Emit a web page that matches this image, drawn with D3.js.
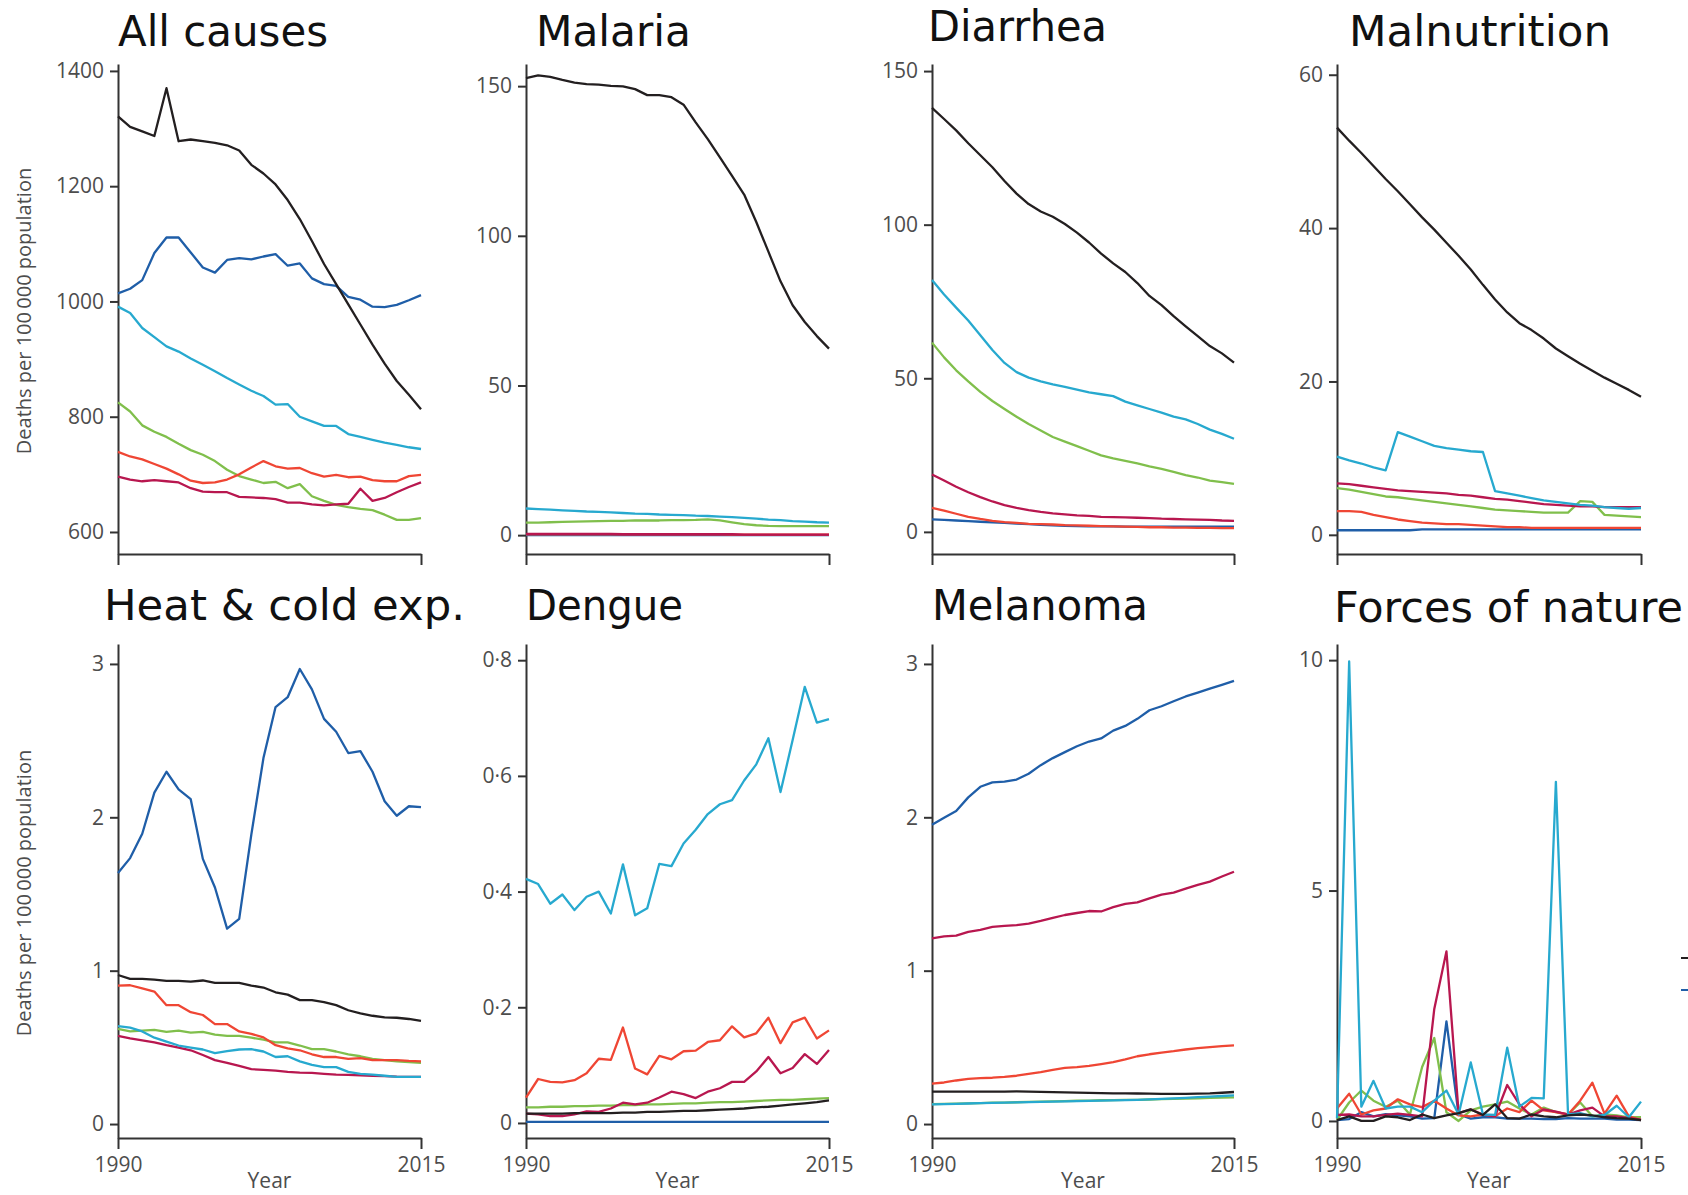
<!DOCTYPE html>
<html>
<head>
<meta charset="utf-8">
<script src="https://cdn.jsdelivr.net/npm/d3@7"></script>
<style>
  body { margin: 0; background: #ffffff; }
  svg { display: block; }
</style>
</head>
<body>
<svg id="chart" width="1688" height="1195"></svg>
<script>
// Years on the x axis
const years = [1990,1991,1992,1993,1994,1995,1996,1997,1998,1999,2000,2001,2002,2003,2004,2005,2006,2007,2008,2009,2010,2011,2012,2013,2014,2015];

// Series order inside every panel: black, dark blue, light blue, green, red, crimson
const seriesColors = ["#231f20", "#1f5ea8", "#27a9cf", "#80bf4c", "#ef4634", "#b8174f"];

// Deaths per 100 000 population, one row per series
const allCauses = [
  [1321,1303,1295,1287,1370,1278,1281,1278,1275,1271,1262,1237,1222,1203,1176,1143,1105,1065,1030,995,960,925,892,862,838,813],
  [1014,1022,1037,1084,1111,1111,1085,1059,1050,1072,1075,1073,1078,1082,1062,1066,1040,1030,1027,1008,1003,991,990,994,1002,1011],
  [991,980,954,938,922,913,901,890,879,867,856,845,836,821,822,800,792,784,784,770,765,760,755,751,747,744],
  [825,809,785,774,765,753,742,734,723,708,697,691,685,687,676,683,662,654,647,643,640,638,630,621,621,624],
  [739,731,726,718,710,700,689,685,686,691,700,712,723,714,710,711,702,696,699,695,696,690,688,688,697,699],
  [696,691,688,690,688,686,676,670,669,669,661,660,659,657,651,651,648,646,648,649,675,654,659,669,678,686]
];
const malaria = [
  [152.7,153.6,153.1,152.1,151.2,150.7,150.5,150.1,149.9,149.0,147.0,147.0,146.3,143.8,137.9,132.3,126.2,120.0,113.8,104.6,94.7,84.8,76.8,71.2,66.5,62.3],
  [0.0,0.0,0.0,0.0,0.0,0.0,0.0,0.0,0.0,0.0,0.0,0.0,0.0,0.0,0.0,0.0,0.0,0.0,0.0,0.0,0.0,0.0,0.0,0.0,0.0,0.0],
  [8.9,8.7,8.5,8.3,8.1,7.9,7.8,7.6,7.4,7.2,7.1,6.9,6.8,6.7,6.5,6.4,6.2,6.0,5.8,5.5,5.2,5.0,4.7,4.5,4.3,4.2],
  [4.2,4.2,4.3,4.4,4.5,4.6,4.7,4.8,4.8,4.9,4.9,4.9,5.0,5.0,5.1,5.3,4.9,4.3,3.7,3.3,3.1,3.0,3.0,3.0,3.0,3.0],
  [0.3,0.3,0.3,0.3,0.3,0.3,0.3,0.3,0.3,0.3,0.3,0.3,0.3,0.3,0.3,0.3,0.3,0.2,0.2,0.2,0.2,0.2,0.2,0.2,0.2,0.2],
  [0.4,0.4,0.4,0.4,0.4,0.4,0.4,0.4,0.3,0.3,0.3,0.3,0.3,0.3,0.3,0.3,0.3,0.3,0.2,0.2,0.2,0.2,0.2,0.2,0.2,0.2]
];
const diarrhea = [
  [138.0,134.4,130.7,126.5,122.6,118.7,114.2,110.1,106.7,104.3,102.6,100.2,97.4,94.2,90.6,87.4,84.6,81.0,76.8,73.8,70.2,66.9,63.7,60.5,58.1,55.1],
  [4.1,3.9,3.7,3.5,3.3,3.1,2.9,2.7,2.5,2.3,2.1,2.0,1.9,1.8,1.8,1.8,1.7,1.7,1.7,1.7,1.7,1.7,1.7,1.7,1.7,1.7],
  [82.0,77.3,73.0,68.8,64.0,59.2,55.0,52.0,50.2,49.0,48.0,47.2,46.3,45.4,44.8,44.2,42.4,41.2,40.0,38.8,37.5,36.6,35.1,33.3,31.9,30.3],
  [61.6,56.8,52.6,49.0,45.6,42.6,40.0,37.5,35.1,33.0,30.9,29.4,27.9,26.4,24.9,23.9,23.1,22.3,21.3,20.5,19.5,18.5,17.7,16.7,16.2,15.6],
  [7.8,6.9,5.9,4.9,4.2,3.6,3.2,2.9,2.6,2.5,2.4,2.2,2.1,2.0,1.9,1.8,1.7,1.6,1.5,1.5,1.4,1.4,1.3,1.3,1.2,1.2],
  [18.7,16.7,14.7,12.9,11.3,9.9,8.7,7.8,7.1,6.5,6.0,5.7,5.4,5.2,4.9,4.8,4.7,4.6,4.5,4.3,4.2,4.1,4.0,3.9,3.7,3.6]
];
const malnutrition = [
  [53.1,51.4,49.8,48.1,46.4,44.8,43.1,41.4,39.8,38.1,36.4,34.6,32.6,30.7,29.0,27.6,26.7,25.6,24.3,23.3,22.3,21.4,20.5,19.7,18.9,18.0],
  [0.6,0.6,0.6,0.6,0.6,0.6,0.6,0.7,0.7,0.7,0.7,0.7,0.7,0.7,0.7,0.7,0.7,0.7,0.7,0.7,0.7,0.7,0.7,0.7,0.7,0.7],
  [10.2,9.7,9.3,8.8,8.4,13.4,12.8,12.2,11.6,11.3,11.1,10.9,10.8,5.7,5.4,5.1,4.8,4.5,4.3,4.1,3.9,3.8,3.6,3.5,3.4,3.5],
  [6.1,5.9,5.6,5.3,5.0,4.9,4.7,4.5,4.3,4.1,3.9,3.7,3.5,3.3,3.2,3.1,3.0,2.9,2.9,2.9,4.4,4.3,2.6,2.5,2.4,2.3],
  [3.1,3.1,3.0,2.6,2.3,2.0,1.8,1.6,1.5,1.4,1.4,1.3,1.2,1.1,1.0,1.0,0.9,0.9,0.9,0.9,0.9,0.9,0.9,0.9,0.9,0.9],
  [6.7,6.6,6.4,6.2,6.0,5.8,5.7,5.6,5.5,5.4,5.2,5.1,4.9,4.7,4.6,4.4,4.2,4.0,3.9,3.8,3.7,3.7,3.6,3.6,3.6,3.6]
];
const heatCold = [
  [0.972,0.946,0.946,0.941,0.934,0.934,0.928,0.936,0.921,0.921,0.921,0.903,0.890,0.859,0.844,0.808,0.808,0.795,0.775,0.742,0.721,0.706,0.696,0.693,0.685,0.673],
  [1.637,1.734,1.893,2.161,2.297,2.182,2.118,1.729,1.542,1.274,1.338,1.887,2.386,2.719,2.783,2.967,2.834,2.642,2.558,2.419,2.432,2.297,2.105,2.010,2.072,2.066],
  [0.639,0.629,0.604,0.563,0.537,0.512,0.499,0.486,0.463,0.476,0.486,0.488,0.473,0.437,0.442,0.409,0.386,0.371,0.371,0.340,0.327,0.322,0.315,0.307,0.307,0.307],
  [0.621,0.604,0.609,0.614,0.601,0.609,0.596,0.601,0.583,0.575,0.575,0.563,0.550,0.532,0.532,0.512,0.488,0.488,0.473,0.455,0.442,0.425,0.417,0.409,0.404,0.399],
  [0.903,0.905,0.885,0.864,0.775,0.775,0.729,0.711,0.652,0.652,0.604,0.588,0.565,0.514,0.494,0.481,0.455,0.437,0.437,0.425,0.430,0.417,0.417,0.417,0.412,0.409],
  [0.575,0.558,0.545,0.532,0.514,0.499,0.481,0.450,0.417,0.399,0.379,0.358,0.353,0.348,0.340,0.335,0.333,0.327,0.322,0.320,0.318,0.315,0.313,0.309,0.307,0.307]
];
const dengue = [
  [0.016,0.016,0.016,0.016,0.017,0.017,0.017,0.017,0.018,0.018,0.019,0.019,0.020,0.021,0.021,0.022,0.023,0.024,0.025,0.027,0.028,0.030,0.032,0.034,0.036,0.039],
  [0.002,0.002,0.002,0.002,0.002,0.002,0.002,0.002,0.002,0.002,0.002,0.002,0.002,0.002,0.002,0.002,0.002,0.002,0.002,0.002,0.002,0.002,0.002,0.002,0.002,0.002],
  [0.422,0.413,0.379,0.395,0.368,0.391,0.400,0.362,0.447,0.359,0.371,0.448,0.444,0.483,0.507,0.534,0.551,0.558,0.592,0.620,0.665,0.572,0.662,0.754,0.692,0.698],
  [0.027,0.027,0.028,0.028,0.029,0.029,0.030,0.030,0.031,0.031,0.032,0.032,0.033,0.034,0.034,0.035,0.036,0.036,0.037,0.038,0.039,0.040,0.040,0.041,0.042,0.043],
  [0.044,0.076,0.071,0.070,0.074,0.086,0.111,0.109,0.165,0.094,0.084,0.116,0.110,0.124,0.125,0.140,0.143,0.167,0.148,0.155,0.182,0.138,0.174,0.182,0.146,0.160],
  [0.016,0.015,0.012,0.012,0.015,0.020,0.019,0.025,0.035,0.032,0.035,0.044,0.054,0.050,0.043,0.054,0.060,0.071,0.071,0.089,0.114,0.086,0.095,0.119,0.102,0.126]
];
const melanoma = [
  [0.212,0.212,0.211,0.211,0.212,0.212,0.212,0.213,0.212,0.210,0.208,0.206,0.205,0.203,0.201,0.200,0.200,0.199,0.198,0.197,0.197,0.197,0.198,0.200,0.204,0.209],
  [1.951,1.997,2.041,2.130,2.199,2.228,2.233,2.246,2.284,2.340,2.386,2.425,2.463,2.494,2.514,2.565,2.596,2.642,2.698,2.724,2.757,2.788,2.813,2.839,2.864,2.890],
  [0.128,0.130,0.132,0.134,0.136,0.138,0.140,0.141,0.143,0.145,0.146,0.148,0.150,0.151,0.153,0.154,0.156,0.158,0.161,0.164,0.168,0.171,0.175,0.179,0.183,0.187],
  [0.130,0.131,0.133,0.135,0.137,0.139,0.140,0.142,0.144,0.146,0.148,0.150,0.152,0.153,0.155,0.156,0.157,0.158,0.160,0.162,0.164,0.166,0.168,0.170,0.172,0.174],
  [0.263,0.271,0.284,0.294,0.299,0.302,0.307,0.315,0.327,0.338,0.353,0.366,0.371,0.379,0.391,0.404,0.422,0.442,0.455,0.466,0.475,0.486,0.495,0.502,0.508,0.513],
  [1.210,1.223,1.228,1.253,1.266,1.286,1.292,1.297,1.307,1.325,1.345,1.363,1.376,1.389,1.386,1.414,1.435,1.445,1.471,1.496,1.509,1.535,1.560,1.581,1.614,1.645]
];
const forcesOfNature = [
  [0.02,0.10,0.00,0.00,0.10,0.08,0.02,0.14,0.06,0.12,0.17,0.25,0.13,0.36,0.06,0.05,0.14,0.10,0.08,0.12,0.14,0.12,0.08,0.06,0.05,0.02],
  [0.02,0.04,0.19,0.10,0.15,0.12,0.10,0.05,0.06,2.16,0.14,0.05,0.08,0.08,0.05,0.05,0.05,0.04,0.04,0.06,0.05,0.05,0.05,0.03,0.03,0.02],
  [0.06,9.97,0.31,0.87,0.27,0.31,0.31,0.19,0.44,0.66,0.14,1.27,0.14,0.13,1.59,0.31,0.50,0.49,7.36,0.14,0.17,0.10,0.13,0.33,0.08,0.42],
  [0.02,0.40,0.66,0.44,0.31,0.44,0.14,1.17,1.80,0.19,0.00,0.23,0.31,0.36,0.42,0.27,0.14,0.29,0.19,0.14,0.40,0.10,0.14,0.12,0.08,0.08],
  [0.27,0.59,0.14,0.23,0.27,0.47,0.36,0.30,0.44,0.27,0.12,0.10,0.14,0.10,0.27,0.19,0.44,0.23,0.19,0.14,0.44,0.83,0.16,0.55,0.10,0.02],
  [0.13,0.14,0.10,0.10,0.13,0.16,0.13,0.10,2.43,3.68,0.17,0.25,0.14,0.10,0.78,0.36,0.10,0.25,0.20,0.14,0.23,0.29,0.10,0.10,0.06,0.03]
];

// Panel titles and y tick values
const panelTitles = ["All causes", "Malaria", "Diarrhea", "Malnutrition",
                     "Heat & cold exp.", "Dengue", "Melanoma", "Forces of nature"];
const allCausesTicks = [600, 800, 1000, 1200, 1400];
const malariaTicks = [0, 50, 100, 150];
const diarrheaTicks = [0, 50, 100, 150];
const malnutritionTicks = [0, 20, 40, 60];
const heatColdTicks = [0, 1, 2, 3];
const dengueTicks = [0, 0.2, 0.4, 0.6, 0.8];
const melanomaTicks = [0, 1, 2, 3];
const forcesTicks = [0, 5, 10];
const yearTicks = [1990, 2015];

const yLabel = "Deaths per 100\u2009000 population";
const xLabel = "Year";

// ---- layout ----
const colX = [[118, 421], [526, 829], [932, 1234], [1337, 1641]];
const rowY = [[554, 64], [1138, 644]];
const titleX = [118, 536, 928, 1349, 104, 526, 932, 1334];
const titleY = [46, 46, 41, 46, 620, 620, 620, 622];
const titleWidth = [210, 155, 179, 262, 361, 157, 216, 349];

const panels = [
  { data: allCauses,      ticks: allCausesTicks,    domain: [561.8, 1412] },
  { data: malaria,        ticks: malariaTicks,      domain: [-6.3, 157.4] },
  { data: diarrhea,       ticks: diarrheaTicks,     domain: [-7.2, 152.3] },
  { data: malnutrition,   ticks: malnutritionTicks, domain: [-2.5, 61.4] },
  { data: heatCold,       ticks: heatColdTicks,     domain: [-0.091, 3.13] },
  { data: dengue,         ticks: dengueTicks,       domain: [-0.026, 0.828] },
  { data: melanoma,       ticks: melanomaTicks,     domain: [-0.091, 3.13] },
  { data: forcesOfNature, ticks: forcesTicks,       domain: [-0.37, 10.35] }
];

const svg = d3.select("#chart");
const axisColor = "#333333";
const tickFont = "'Open Sans', 'Noto Sans', sans-serif";
// dark blue goes underneath so the near-zero red traces stay visible
const drawOrder = [1, 3, 4, 5, 2, 0];

// decimal ticks use a raised point, zero stays a bare "0"
const decimalFormat = d => d === 0 ? "0" : d3.format(".1f")(d).replace(".", "\u00b7");

panels.forEach((p, i) => {
  const row = Math.floor(i / 4), col = i % 4;
  const x = d3.scaleLinear().domain([years[0], years[years.length - 1]]).range(colX[col]);
  const y = d3.scaleLinear().domain(p.domain).range(rowY[row]);
  const g = svg.append("g");

  // title
  svg.append("text")
    .attr("x", titleX[i]).attr("y", titleY[i])
    .attr("font-family", "'DejaVu Sans', sans-serif")
    .attr("font-size", 42)
    .attr("fill", "#111")
    .attr("textLength", titleWidth[i])
    .attr("lengthAdjust", "spacingAndGlyphs")
    .text(panelTitles[i]);

  // y axis
  const fmt = i === 5 ? decimalFormat : d3.format("d");
  const yAxis = g.append("g")
    .attr("transform", `translate(${colX[col][0]},0)`)
    .call(d3.axisLeft(y).tickValues(p.ticks).tickFormat(fmt).tickSize(8).tickSizeOuter(0).tickPadding(6));

  // x axis
  const xAxis = g.append("g")
    .attr("transform", `translate(0,${rowY[row][0]})`)
    .call(d3.axisBottom(x).tickValues(yearTicks)
      .tickFormat(row === 1 ? d3.format("d") : () => "")
      .tickSize(11).tickSizeOuter(0).tickPadding(8));

  [yAxis, xAxis].forEach(a => {
    a.attr("font-family", tickFont).attr("font-size", 21);
    a.selectAll("path, line").attr("stroke", axisColor).attr("stroke-width", 2);
    a.selectAll("text").attr("fill", "#4d4d4d");
  });

  // series lines
  const line = d3.line().x((d, k) => x(years[k])).y(d => y(d));
  drawOrder.forEach(s => {
    g.append("path")
      .datum(p.data[s])
      .attr("fill", "none")
      .attr("stroke", seriesColors[s])
      .attr("stroke-width", 2.3)
      .attr("stroke-linejoin", "round")
      .attr("d", line);
  });

  // axis labels
  if (col === 0) {
    const cy = (rowY[row][0] + rowY[row][1]) / 2 + 2;
    svg.append("text")
      .attr("transform", `translate(31,${cy}) rotate(-90)`)
      .attr("text-anchor", "middle")
      .attr("font-family", tickFont)
      .attr("font-size", 20)
      .attr("fill", "#4d4d4d")
      .text(yLabel);
  }
  if (row === 1) {
    svg.append("text")
      .attr("x", (colX[col][0] + colX[col][1]) / 2)
      .attr("y", 1188)
      .attr("text-anchor", "middle")
      .attr("font-family", tickFont)
      .attr("font-size", 21)
      .attr("fill", "#4d4d4d")
      .text(xLabel);
  }
});

// legend keys at the right edge
const legendKeys = seriesColors.slice(0, 2);
svg.append("g").selectAll("line").data(legendKeys).join("line")
  .attr("x1", 1681).attr("x2", 1700)
  .attr("y1", (d, k) => 958 + k * 32).attr("y2", (d, k) => 958 + k * 32)
  .attr("stroke", d => d).attr("stroke-width", 2);
</script>
</body>
</html>
